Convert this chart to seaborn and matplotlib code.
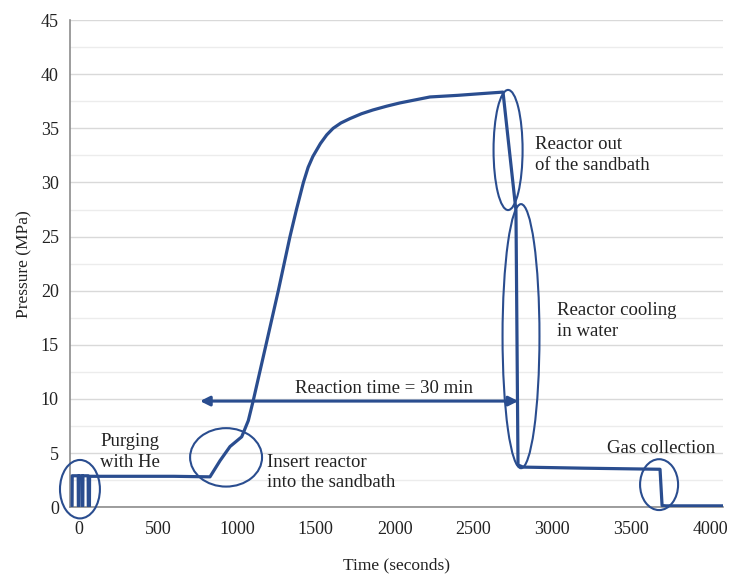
import matplotlib
matplotlib.use("Agg")
import matplotlib.pyplot as plt
from matplotlib.patches import Ellipse
import seaborn as sns
import pandas as pd

# Pressure trace of one reactor run
time_s = [-44, -43, -5, -4, -1, 0, 20, 21, 24, 25, 58, 59, 66, 67,
          300, 600, 830, 894, 957, 1031, 1073, 1105, 1185, 1263, 1337, 1378,
          1422, 1452, 1482, 1530, 1570, 1610, 1660, 1717, 1790, 1863, 1950, 2034,
          2224, 2400, 2541, 2687,
          2769, 2782, 2814, 3200, 3682, 3695, 3720, 4081]
pressure_mpa = [0.1, 2.9, 2.9, 0.1, 0.1, 2.9, 2.9, 0.1, 0.1, 2.9, 2.9, 0.1, 0.1, 2.85,
                2.85, 2.85, 2.8, 4.3, 5.6, 6.5, 8.0, 9.9, 15.0, 20.0, 25.0, 27.5,
                30.0, 31.4, 32.4, 33.6, 34.4, 35.0, 35.5, 35.9, 36.35, 36.7, 37.05, 37.35,
                37.9, 38.05, 38.2, 38.35,
                27.4, 3.9, 3.7, 3.6, 3.5, 0.15, 0.12, 0.12]

# Annotated events: (centre x, centre y, width, height)
ellipse_x = [6, 932, 2719, 2801, 3676]
ellipse_y = [1.66, 4.6, 33.0, 15.8, 2.08]
ellipse_w = [253, 456, 184, 234, 241]
ellipse_h = [5.4, 5.4, 11.1, 24.4, 4.7]

labels = ["Purging\nwith He", "Insert reactor\ninto the sandbath",
          "Reactor out\nof the sandbath", "Reactor cooling\nin water",
          "Gas collection"]
label_x = [133, 1191, 2890, 3029, 3346]
label_y = [5.1, 3.2, 32.5, 17.2, 5.45]

reaction_start, reaction_end, reaction_level = 767, 2784, 9.8
reaction_label = "Reaction time = 30 min"
reaction_label_x, reaction_label_y = 1933, 11.0

x_ticks = [0, 500, 1000, 1500, 2000, 2500, 3000, 3500, 4000]
y_ticks = [0, 5, 10, 15, 20, 25, 30, 35, 40, 45]

sns.set_theme(style="white")
plt.rcParams["font.family"] = ["Liberation Serif", "DejaVu Serif"]

line_color = "#2a4d8f"
text_color = "#222222"

fig = plt.figure(figsize=(7.3, 5.75), dpi=100)
ax = fig.add_axes([0.0959, 0.118, 0.8945, 0.847])

df = pd.DataFrame({"Time (seconds)": time_s, "Pressure (MPa)": pressure_mpa})
sns.lineplot(data=df, x="Time (seconds)", y="Pressure (MPa)", ax=ax,
             sort=False, estimator=None, color=line_color, linewidth=2.3,
             zorder=3, solid_joinstyle="round")

ax.set_xlim(-57, 4081)
ax.set_ylim(0, 45)
ax.set_xticks(x_ticks)
ax.set_yticks(y_ticks)
ax.set_yticks([2.5 + 5 * i for i in range(9)], minor=True)
ax.grid(True, which="major", axis="y", color="#d9d9d9", linewidth=1.0)
ax.grid(True, which="minor", axis="y", color="#ececec", linewidth=1.0)
ax.grid(False, axis="x")
ax.tick_params(axis="both", which="both", length=0, labelsize=13, colors=text_color)
ax.tick_params(axis="x", pad=10)
ax.tick_params(axis="y", pad=8)

for side in ["top", "right"]:
    ax.spines[side].set_visible(False)
for side in ["left", "bottom"]:
    ax.spines[side].set_color("#8c8c8c")
    ax.spines[side].set_linewidth(1.2)

ax.set_xlabel("Time (seconds)", fontsize=12.5, color=text_color, labelpad=14)
ax.set_ylabel("Pressure (MPa)", fontsize=12.5, color=text_color, labelpad=6)

for cx, cy, w, h in zip(ellipse_x, ellipse_y, ellipse_w, ellipse_h):
    ax.add_patch(Ellipse((cx, cy), w, h, fill=False, edgecolor=line_color,
                         linewidth=1.5, zorder=4, clip_on=False))

for txt, tx, ty in zip(labels, label_x, label_y):
    ax.text(tx, ty, txt, fontsize=13.5, color=text_color, ha="left", va="center",
            linespacing=1.3, zorder=5)

ax.annotate("", xy=(reaction_start, reaction_level), xytext=(reaction_end, reaction_level),
            arrowprops=dict(arrowstyle="<|-|>", color=line_color, lw=2.2,
                            mutation_scale=14, shrinkA=0, shrinkB=0), zorder=4)
ax.text(reaction_label_x, reaction_label_y, reaction_label, fontsize=13.5,
        color=text_color, ha="center", va="center", zorder=5)

fig.savefig("out.png", dpi=100, facecolor="white")
